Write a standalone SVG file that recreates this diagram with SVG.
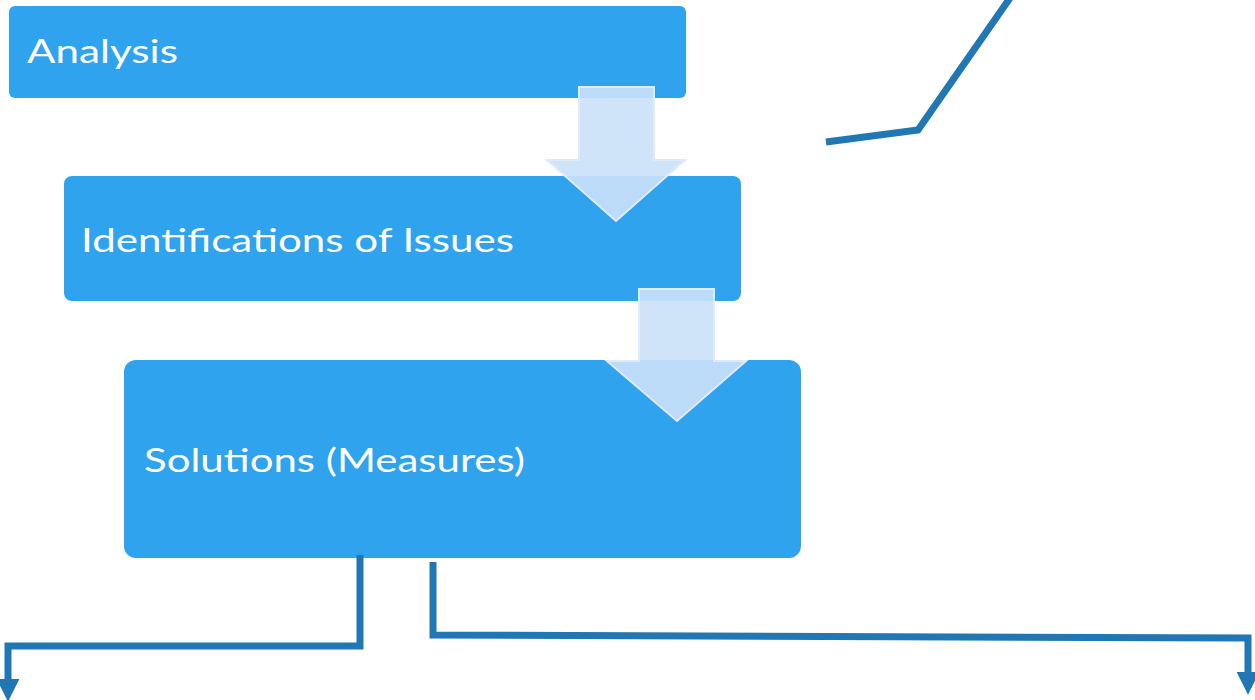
<svg xmlns="http://www.w3.org/2000/svg" width="1255" height="700" viewBox="0 0 1255 700">
<defs>
<style>
.box{fill:#30A3EE;}
.lbl{fill:#FFFFFF;font-family:Lato,"Noto Sans",sans-serif;font-size:33px;}
.flow{fill:#CBE1F8;fill-opacity:0.9;stroke:#DDEBFA;stroke-width:2;stroke-linejoin:miter;}
.conn{fill:none;stroke:#2077B4;stroke-width:7;stroke-linejoin:miter;}
</style>
<marker id="ah" viewBox="0 0 10 10" refX="1" refY="5" markerWidth="3.3" markerHeight="3.3" orient="auto" markerUnits="strokeWidth">
<path d="M0,0 L10,5 L0,10 Z" fill="#2077B4"/>
</marker>
</defs>
<g id="node-analysis">
<rect class="box" x="9" y="6" width="677" height="92" rx="6"/>
<text class="lbl" x="27" y="63" textLength="151" lengthAdjust="spacingAndGlyphs">Analysis</text>
</g>
<g id="node-issues">
<rect class="box" x="64" y="176" width="677" height="125" rx="8"/>
<text class="lbl" x="81" y="252" textLength="433" lengthAdjust="spacingAndGlyphs">Identifications of Issues</text>
</g>
<g id="node-solutions">
<rect class="box" x="124" y="360" width="677" height="198" rx="12"/>
<text class="lbl" x="144" y="472" textLength="381" lengthAdjust="spacingAndGlyphs">Solutions (Measures)</text>
</g>
<g id="flow-arrows">
<path class="flow" d="M579,87 L654,87 L654,160 L685,160 L616,221 L547,160 L579,160 Z"/>
<path class="flow" d="M639,289 L714,289 L714,361 L746,361 L677,421 L607,361 L639,361 Z"/>
</g>
<g id="connectors">
<polyline class="conn" points="360,555 360,646 8,646 8,681" marker-end="url(#ah)"/>
<polyline class="conn" points="433,562 433,635 1248,638 1248,674" marker-end="url(#ah)"/>
<polyline class="conn" points="826,142 918,130 1010,-2"/>
</g>
</svg>
